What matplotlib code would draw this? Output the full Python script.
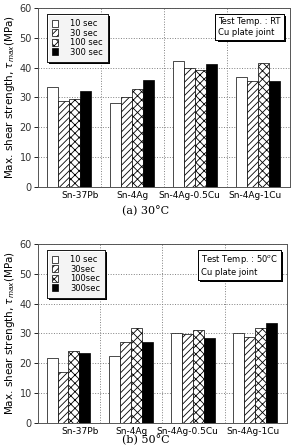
import matplotlib.pyplot as plt
import matplotlib.patheffects as pe
from matplotlib.offsetbox import AnchoredText
import numpy as np

### Data ###
alloys = ['Sn-37Pb', 'Sn-4Ag', 'Sn-4Ag-0.5Cu', 'Sn-4Ag-1Cu']
times_a = ['10 sec', '30 sec', '100 sec', '300 sec']
times_b = ['10 sec', '30sec', '100sec', '300sec']

# (a) 30C, rows = aging time, cols = alloy
rt_10 = [33.4, 28.1, 42.2, 36.7]
rt_30 = [28.8, 30.0, 40.0, 35.6]
rt_100 = [29.5, 33.0, 39.3, 41.5]
rt_300 = [32.1, 35.7, 41.3, 35.5]

# (b) 50C
ht_10 = [21.9, 22.4, 30.1, 30.1]
ht_30 = [17.2, 27.0, 29.9, 28.7]
ht_100 = [24.1, 31.8, 31.0, 31.7]
ht_300 = [23.4, 27.2, 28.4, 33.4]

### Styles ###
faces = ['white', 'white', 'white', 'black']
hatches = ['', '/////', 'xxxx', '']
label_pos = [0.67, 1.5, 2.4, 3.45]  # where the alloy names sit under the groups
shadow = [pe.withSimplePatchShadow(offset=(1.5, -1.5), shadow_rgbFace='k', alpha=1.0), pe.Normal()]

plt.rcParams['font.family'] = 'DejaVu Sans'
plt.rcParams['hatch.linewidth'] = 0.6

fig = plt.figure(figsize=(2.92, 4.47), dpi=100)
ax1 = fig.add_axes([0.130, 0.582, 0.863, 0.400])
ax2 = fig.add_axes([0.130, 0.054, 0.853, 0.400])

def draw(ax, series, names, note):
    x = np.arange(len(alloys)) + 0.49
    w = 0.175
    handles = []
    for i, vals in enumerate(series):
        b = ax.bar(x + (i - 1.5) * w, vals, w, color=faces[i], hatch=hatches[i],
                   edgecolor='black', linewidth=0.5, zorder=3, label=names[i])
        handles.append(b)
    ax.set_xlim(0, 4)
    ax.set_ylim(0, 60)
    ax.set_yticks(np.arange(0, 61, 10))
    ax.set_xticks(label_pos)
    ax.set_xticklabels(alloys, fontsize=6.5)
    ax.tick_params(axis='x', length=0, pad=3)
    ax.tick_params(axis='y', labelsize=7, labelcolor='#333333', length=3, width=0.6,
                   direction='out', pad=1.5)
    # dotted grid: horizontal lines + group separators
    ax.grid(axis='y', linestyle=':', color='gray', linewidth=0.7, zorder=0)
    for g in [1, 2, 3]:
        ax.axvline(g, linestyle=':', color='gray', linewidth=0.7, zorder=0)
    for s in ax.spines.values():
        s.set_linewidth(0.7)
        s.set_color('#555555')
    ax.set_ylabel('Max. shear strength, $\\tau_{max}$(MPa)', fontsize=7.5, labelpad=2)

    leg = ax.legend(handles=handles, loc='upper left', bbox_to_anchor=(0.035, 0.965),
                    fontsize=6, frameon=True, fancybox=False, handlelength=0.8,
                    handleheight=0.9, handletextpad=1.4, borderpad=0.6, labelspacing=0.05,
                    borderaxespad=0)
    leg.get_frame().set_edgecolor('black')
    leg.get_frame().set_linewidth(0.7)
    leg.get_frame().set_path_effects(shadow)

    at = AnchoredText(note, loc='upper right', prop=dict(size=6, linespacing=1.3),
                      frameon=True, bbox_to_anchor=(0.975, 0.965),
                      bbox_transform=ax.transAxes, borderpad=0, pad=0.35)
    at.patch.set_boxstyle('square,pad=0')
    at.patch.set_linewidth(0.7)
    at.patch.set_path_effects(shadow)
    ax.add_artist(at)

draw(ax1, [rt_10, rt_30, rt_100, rt_300], times_a, 'Test Temp. : RT\nCu plate joint')
draw(ax2, [ht_10, ht_30, ht_100, ht_300], times_b, 'Test Temp. : 50$^{o}$C\nCu plate joint')

fig.text(0.5, 1 - 211 / 447, '(a) 30\u00b0C', ha='center', va='center', fontsize=8, family='DejaVu Serif')
fig.text(0.5, 1 - 440 / 447, '(b) 50\u00b0C', ha='center', va='center', fontsize=8, family='DejaVu Serif')

fig.savefig('out.png', dpi=100)
